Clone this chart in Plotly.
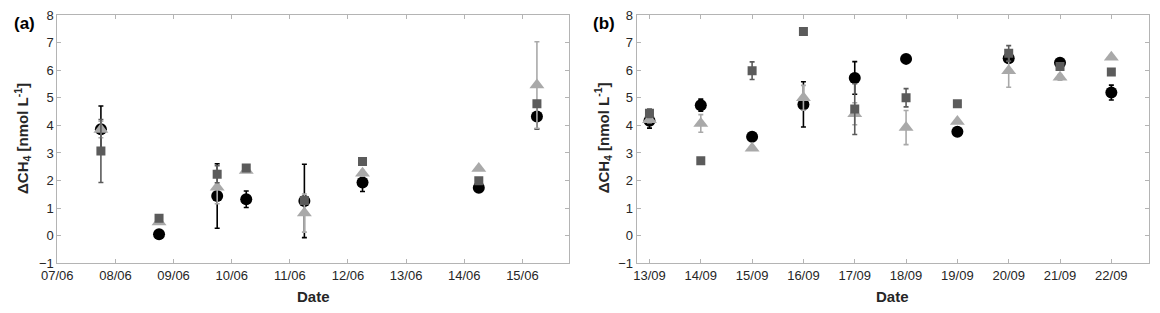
import plotly.graph_objects as go

# ---------------- data ----------------
dates_a = ["2019-06-07 18:00", "2019-06-08 18:00", "2019-06-09 18:00", "2019-06-10 06:00",
           "2019-06-11 06:00", "2019-06-12 06:00", "2019-06-14 06:00", "2019-06-15 06:00"]
circle_a = [3.86, 0.05, 1.44, 1.32, 1.26, 1.93, 1.74, 4.32]
circle_a_err = [0.84, 0.0, 1.17, 0.30, 1.33, 0.33, 0.0, 0.45]
square_a = [3.07, 0.63, 2.23, 2.45, 1.28, 2.69, 1.99, 4.78]
square_a_err = [1.14, 0.0, 0.31, 0.0, 0.10, 0.0, 0.0, 0.10]
tri_a = [3.85, 0.50, 1.76, 2.36, 0.82, 2.26, 2.44, 5.46]
tri_a_err = [0.30, 0.0, 0.60, 0.0, 0.69, 0.10, 0.0, 1.57]

dates_b = ["2019-09-13", "2019-09-14", "2019-09-15", "2019-09-16", "2019-09-17",
           "2019-09-18", "2019-09-19", "2019-09-20", "2019-09-21", "2019-09-22"]
circle_b = [4.17, 4.73, 3.59, 4.76, 5.72, 6.41, 3.77, 6.43, 6.27, 5.19]
circle_b_err = [0.27, 0.22, 0.0, 0.82, 0.59, 0.0, 0.0, 0.10, 0.08, 0.27]
square_b = [4.44, 2.72, 5.98, 7.40, 4.59, 5.00, 4.78, 6.61, 6.13, 5.93]
square_b_err = [0.15, 0.0, 0.32, 0.0, 0.92, 0.33, 0.0, 0.28, 0.08, 0.10]
tri_b = [4.20, 4.07, 3.17, 5.00, 4.42, 3.92, 4.14, 5.98, 5.74, 6.47]
tri_b_err = [0.10, 0.32, 0.0, 0.45, 0.40, 0.62, 0.0, 0.60, 0.10, 0.0]

range_a = ["2019-06-07 00:00", "2019-06-15 19:15"]
range_b = ["2019-09-12 18:00", "2019-09-22 17:45"]
y_ticks = [-1, 0, 1, 2, 3, 4, 5, 6, 7, 8]

# ---------------- styles ----------------
C_CIRC = "#000000"
C_SQ = "#5b5b5b"
C_TRI = "#a9a9a9"
AXIS_C = "#b4b4b4"
TXT_C = "#262626"
FONT = "Liberation Sans, Arial, sans-serif"

fig = go.Figure()


def add_series(x, y, err, color, symbol, size, xa, ya):
    fig.add_trace(go.Scatter(
        x=x, y=y, mode="markers", xaxis=xa, yaxis=ya, showlegend=False,
        marker=dict(symbol=symbol, size=size, color=color, line=dict(width=0)),
        error_y=dict(type="data", array=err, visible=True, color=color,
                     thickness=1.6, width=2.5),
    ))


add_series(dates_a, circle_a, circle_a_err, C_CIRC, "circle", 12, "x", "y")
add_series(dates_a, tri_a, tri_a_err, C_TRI, "triangle-up", 13, "x", "y")
add_series(dates_a, square_a, square_a_err, C_SQ, "square", 9, "x", "y")

add_series(dates_b, circle_b, circle_b_err, C_CIRC, "circle", 12, "x2", "y2")
add_series(dates_b, tri_b, tri_b_err, C_TRI, "triangle-up", 13, "x2", "y2")
add_series(dates_b, square_b, square_b_err, C_SQ, "square", 9, "x2", "y2")

# the page body adds an 8px offset, so the figure is 1152x305
W, H = 1152, 305
ydom = [0.1630, 0.9770]
common_x = dict(type="date", tickformat="%d/%m", dtick=86400000, showgrid=False,
                zeroline=False, showline=True, linecolor=AXIS_C, linewidth=1,
                mirror="ticks", ticks="inside", ticklen=4, tickcolor=AXIS_C,
                automargin=False, ticklabeloverflow="allow",
                tickfont=dict(family=FONT, size=13, color=TXT_C))
common_y = dict(range=[-1, 8], tickvals=y_ticks, showgrid=False, zeroline=False,
                showline=True, linecolor=AXIS_C, linewidth=1, mirror="ticks",
                ticks="inside", ticklen=4, tickcolor=AXIS_C, domain=ydom,
                automargin=False, ticklabeloverflow="allow",
                tickfont=dict(family=FONT, size=13, color=TXT_C))

xa = dict(common_x); xa.update(domain=[0.0428, 0.4870], range=range_a, anchor="y",
                               tick0="2019-06-07")
xb = dict(common_x); xb.update(domain=[0.5457, 0.9907], range=range_b, anchor="y2",
                               tick0="2019-09-13")
ya = dict(common_y); ya.update(anchor="x")
yb = dict(common_y); yb.update(anchor="x2")

ytitle = "<b>ΔCH<sub>4</sub> [nmol L<sup>-1</sup>]</b>"
ann = []
for xc, lab in [(0.0139, "(a)"), (0.5174, "(b)")]:
    ann.append(dict(x=xc, y=0.9508, xref="paper", yref="paper", text=f"<b>{lab}</b>",
                    showarrow=False, font=dict(family=FONT, size=17, color="#000000"),
                    xanchor="center", yanchor="middle"))
for xc in [0.0130, 0.5168]:
    ann.append(dict(x=xc, y=0.5738, xref="paper", yref="paper", text=ytitle, textangle=-90,
                    showarrow=False, font=dict(family=FONT, size=15, color=TXT_C),
                    xanchor="center", yanchor="middle"))
for xc in [0.2648, 0.7678]:
    ann.append(dict(x=xc, y=0.0534, xref="paper", yref="paper", text="<b>Date</b>",
                    showarrow=False, font=dict(family=FONT, size=15, color=TXT_C),
                    xanchor="center", yanchor="middle"))

fig.update_layout(
    template="none",
    width=W, height=H, margin=dict(l=0, r=0, t=0, b=0, pad=0),
    paper_bgcolor="white", plot_bgcolor="white",
    xaxis=xa, xaxis2=xb, yaxis=ya, yaxis2=yb,
    annotations=ann, font=dict(family=FONT),
)

fig.write_html("out.html")
